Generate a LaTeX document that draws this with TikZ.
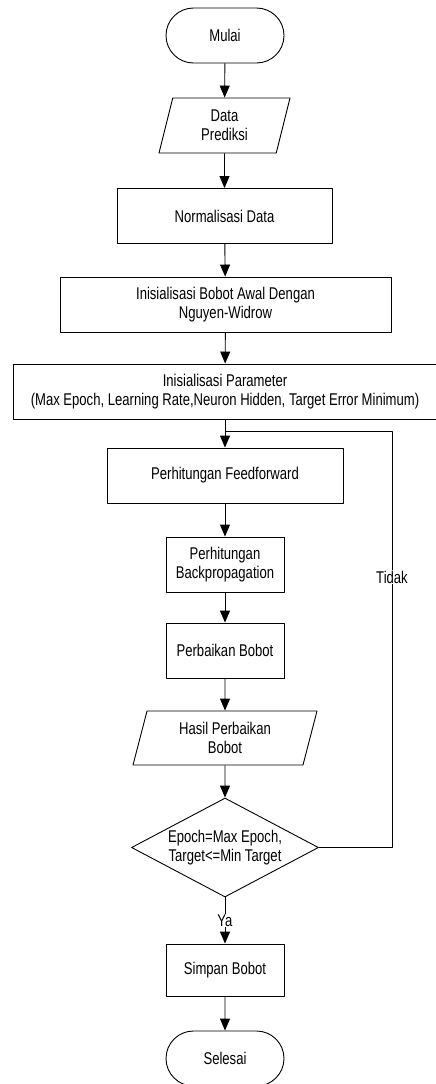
\documentclass[tikz,border=0pt]{standalone}
\usepackage{fontspec}
\setmainfont{Liberation Sans}[FakeStretch=0.77]
\usetikzlibrary{arrows.meta,shapes.geometric,shapes.misc}

\tikzset{
  terminal/.style={draw,rounded rectangle,minimum width=118pt,minimum height=55pt,inner sep=0pt},
  proses/.style={draw,rectangle,minimum height=55pt,align=center,inner sep=0pt},
  dataio/.style={draw,trapezium,trapezium left angle=66,trapezium right angle=114,
    trapezium stretches body,minimum height=55pt,align=center,inner sep=0pt},
  keputusan/.style={draw,diamond,aspect=1.9,minimum width=187pt,minimum height=99pt,
    align=center,inner sep=0pt},
  panah/.style={-{Triangle[width=10pt,length=12pt]}},
  ket/.style={fill=white,inner sep=1pt}
}

\begin{document}
\begin{tikzpicture}[x=1pt,y=-1pt,line width=0.9pt,line join=round,
    font=\fontsize{17}{19}\selectfont]
        \useasboundingbox (0,0) rectangle (436,1084);

        % Awal dan input
        \node[terminal] (mulai) at (225,35.5) {Mulai};
        \node[dataio,minimum width=131pt] (data) at (224.5,125.5) {Data\\Prediksi};
        \node[proses,minimum width=215pt] (normalisasi) at (224.5,216) {Normalisasi Data};
        \node[proses,minimum width=331pt] (bobotawal) at (225.5,304.5)
            {Inisialisasi Bobot Awal Dengan\\Nguyen-Widrow};
        \node[proses,minimum width=424pt] (parameter) at (225,391.5)
            {Inisialisasi Parameter\\(Max Epoch, Learning Rate,Neuron Hidden, Target Error Minimum)};

        % Proses pelatihan
        \node[proses,minimum width=236pt] (feedforward) at (225,475.5) {Perhitungan Feedforward};
        \node[proses,minimum width=118pt] (backprop) at (225,564.5) {Perhitungan\\Backpropagation};
        \node[proses,minimum width=118pt] (perbaikan) at (225,650.5) {Perbaikan Bobot};
        \node[dataio,minimum width=184pt,minimum height=54pt] (hasil) at (225,738)
            {Hasil Perbaikan\\Bobot};
        \node[keputusan] (cek) at (225,847.5) {Epoch=Max Epoch,\\Target<=Min Target};

        % Akhir
        \node[proses,minimum width=118pt,minimum height=52pt] (simpan) at (225,970) {Simpan Bobot};
        \node[terminal] (selesai) at (225,1058.5) {Selesai};

        \coordinate (belok) at (392,431);
        \coordinate (gabung) at (225,431);

        % Alur
        \draw[panah] (mulai) -- (data);
        \draw[panah] (data) -- (normalisasi);
        \draw[panah] (normalisasi) -- (bobotawal);
        \draw[panah] (bobotawal) -- (parameter);
        \draw[panah] (parameter) -- (feedforward);
        \draw[panah] (feedforward) -- (backprop);
        \draw[panah] (backprop) -- (perbaikan);
        \draw[panah] (perbaikan) -- (hasil);
        \draw[panah] (hasil) -- (cek);
        \draw[panah] (cek) -- node[ket] (ya) {Ya} (simpan);
        \draw[panah] (simpan) -- (selesai);

        % Kembali jika belum terpenuhi
        \draw (cek.east) -| (belok) -- (gabung);
        \node[ket] (tidak) at (392,577) {Tidak};

    \end{tikzpicture}
\end{document}
